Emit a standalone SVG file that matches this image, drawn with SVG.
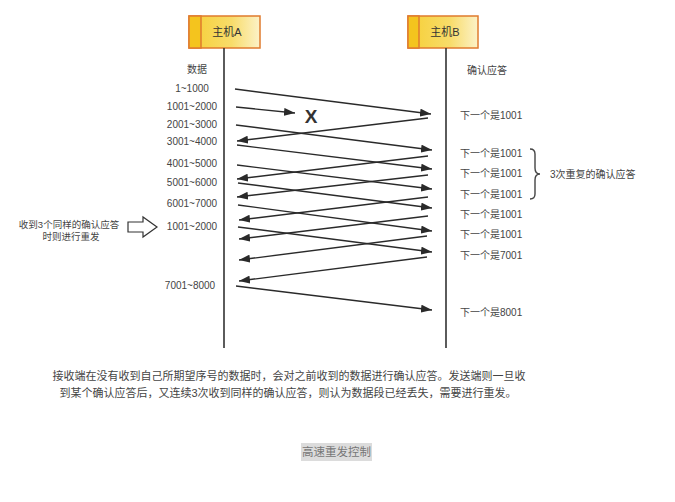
<svg xmlns="http://www.w3.org/2000/svg" width="675" height="502" viewBox="0 0 675 502">
<style>
text{font-family:"Liberation Sans","Noto Sans CJK SC",sans-serif;fill:#444;font-size:10px}
.host{fill:url(#hg);stroke:#E07B2E;stroke-width:1.5}
.strip{fill:#F4C41E;stroke:#E07B2E;stroke-width:1.5}
.life{stroke:#333;stroke-width:1.6}
.msg{stroke:#2a2a2a;stroke-width:1.4;fill:none;marker-end:url(#ah)}
.lbl{text-anchor:middle}
</style>
<defs>
<linearGradient id="hg" x1="0" y1="0" x2="1" y2="0">
<stop offset="0" stop-color="#F6CF35"/>
<stop offset="0.6" stop-color="#F8DC6A"/>
<stop offset="1" stop-color="#FCF2C8"/>
</linearGradient>
<marker id="ah" markerUnits="userSpaceOnUse" markerWidth="12" markerHeight="8" refX="11" refY="4" orient="auto">
<path d="M0,0 L11,4 L0,8 z" fill="#2a2a2a"/>
</marker>
</defs>
<rect width="675" height="502" fill="#fff"/>
<g id="hostA">
<rect class="host" x="189" y="16" width="71" height="32"/>
<rect class="strip" x="189" y="16" width="12" height="32"/>
<text x="227" y="36" class="lbl" style="font-size:11px;fill:#333">主机A</text>
<line class="life" x1="224" y1="48" x2="224" y2="348"/>
<text x="197" y="73" class="lbl">数据</text>
</g>
<g id="hostB">
<rect class="host" x="408" y="16" width="70" height="32"/>
<rect class="strip" x="408" y="16" width="11" height="32"/>
<text x="445" y="36" class="lbl" style="font-size:11px;fill:#333">主机B</text>
<line class="life" x1="446" y1="48" x2="446" y2="348"/>
<text x="487" y="74" class="lbl">确认应答</text>
</g>
<g id="seq-labels">
<text x="192" y="92" class="lbl">1~1000</text>
<text x="192" y="110" class="lbl">1001~2000</text>
<text x="192" y="128" class="lbl">2001~3000</text>
<text x="192" y="145" class="lbl">3001~4000</text>
<text x="192" y="167" class="lbl">4001~5000</text>
<text x="192" y="186" class="lbl">5001~6000</text>
<text x="192" y="207" class="lbl">6001~7000</text>
<text x="192" y="230" class="lbl">1001~2000</text>
<text x="190" y="289" class="lbl">7001~8000</text>
</g>
<g id="ack-labels">
<text x="460" y="119">下一个是1001</text>
<text x="460" y="157">下一个是1001</text>
<text x="460" y="177">下一个是1001</text>
<text x="460" y="198">下一个是1001</text>
<text x="460" y="218">下一个是1001</text>
<text x="460" y="238">下一个是1001</text>
<text x="460" y="259">下一个是7001</text>
<text x="460" y="316">下一个是8001</text>
</g>
<g id="brace">
<path d="M530,149 Q535,149 535,154 L535,168 Q535,174 540,174 Q535,174 535,180 L535,194 Q535,199 530,199" fill="none" stroke="#444" stroke-width="1.4"/>
<text x="550" y="178">3次重复的确认应答</text>
</g>
<g id="note">
<text x="69" y="228" class="lbl" style="font-size:9.5px">收到3个同样的确认应答</text>
<text x="71" y="240" class="lbl" style="font-size:9.5px">时则进行重发</text>
<polygon points="128,222 143,222 143,217 157,227 143,237 143,232 128,232" fill="#fff" stroke="#333" stroke-width="1.2"/>
</g>
<g id="connectors">
<line class="msg" x1="235" y1="89" x2="431" y2="114"/>
<line class="msg" x1="236" y1="107" x2="295" y2="113"/>
<line class="msg" x1="428" y1="118" x2="237" y2="141"/>
<line class="msg" x1="236" y1="125" x2="432" y2="150"/>
<line class="msg" x1="237" y1="145" x2="432" y2="169"/>
<line class="msg" x1="428" y1="156" x2="237" y2="179"/>
<line class="msg" x1="237" y1="165" x2="432" y2="189"/>
<line class="msg" x1="428" y1="175" x2="237" y2="197"/>
<line class="msg" x1="238" y1="183" x2="432" y2="208"/>
<line class="msg" x1="428" y1="197" x2="239" y2="220"/>
<line class="msg" x1="238" y1="205" x2="432" y2="231"/>
<line class="msg" x1="428" y1="216" x2="239" y2="239"/>
<line class="msg" x1="238" y1="227" x2="432" y2="252"/>
<line class="msg" x1="427" y1="236" x2="239" y2="260"/>
<line class="msg" x1="427" y1="257" x2="239" y2="281"/>
<line class="msg" x1="236" y1="286" x2="432" y2="310"/>
</g>
<text x="311" y="123" class="lbl" style="font-size:19px;font-weight:bold;fill:#333">X</text>
<g id="caption">
<text x="289" y="380" class="lbl" style="font-size:11px">接收端在没有收到自己所期望序号的数据时，会对之前收到的数据进行确认应答。发送端则一旦收</text>
<text x="288" y="397" class="lbl" style="font-size:11px">到某个确认应答后，又连续3次收到同样的确认应答，则认为数据段已经丢失，需要进行重发。</text>
</g>
<g id="title">
<rect x="301" y="443" width="71" height="18" fill="#dcdcdc"/>
<text x="336.5" y="456" class="lbl" style="font-size:11.5px;fill:#777">高速重发控制</text>
</g>
</svg>
